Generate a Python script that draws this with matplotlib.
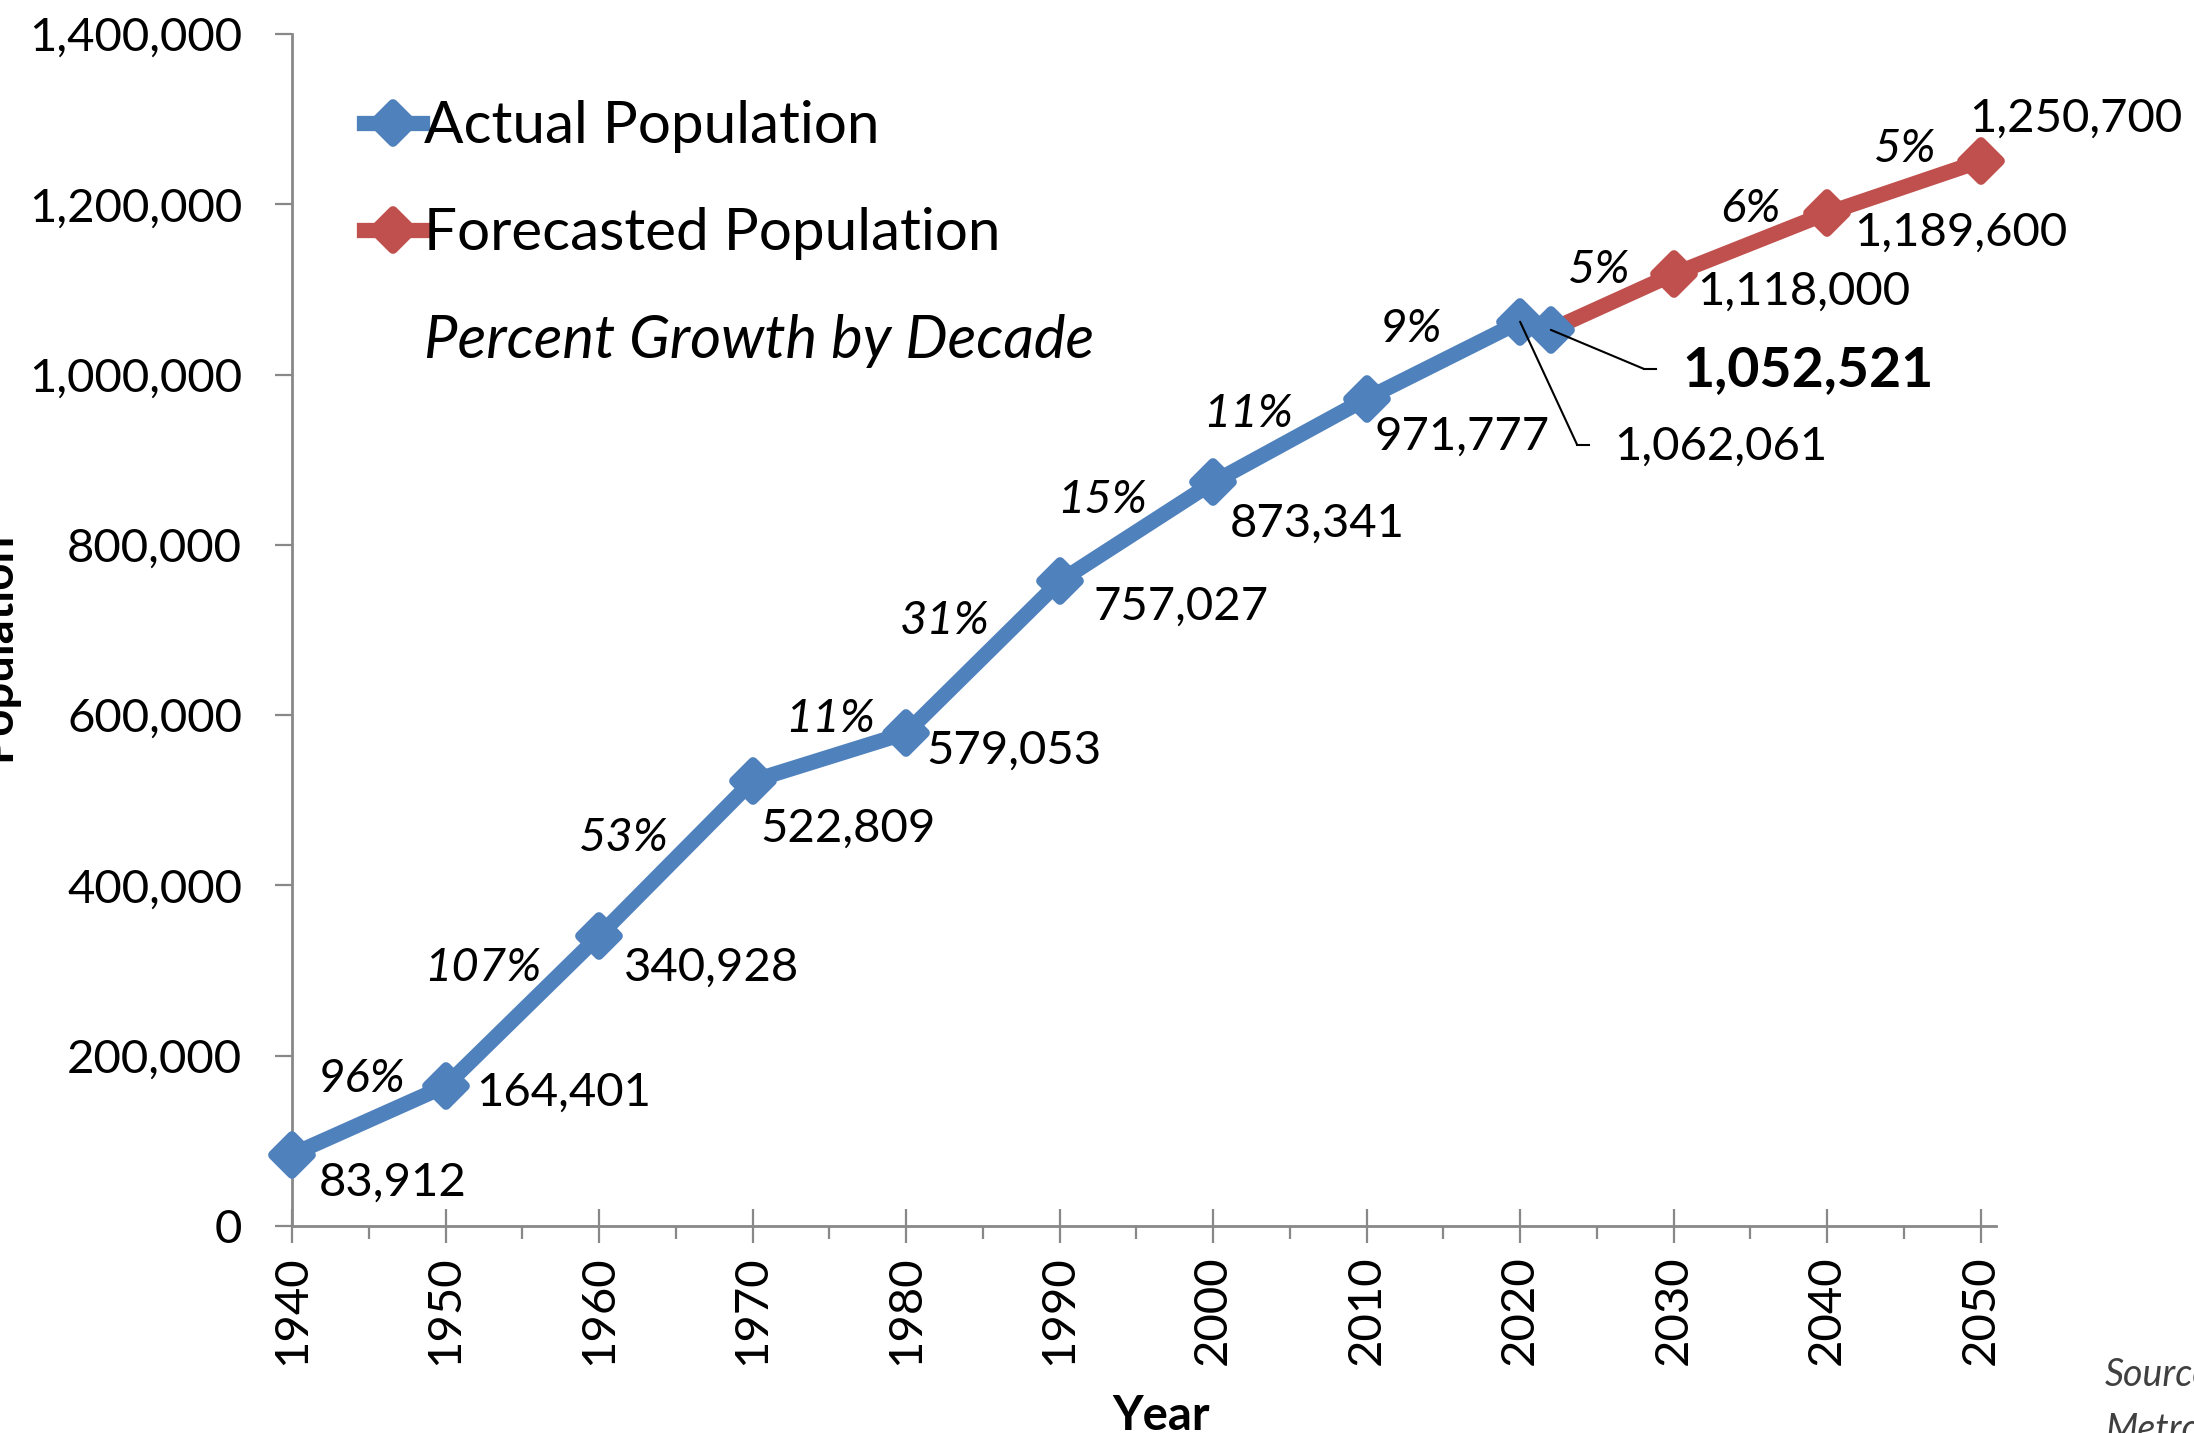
import matplotlib
matplotlib.use("Agg")
import matplotlib.pyplot as plt
from matplotlib.lines import Line2D
from matplotlib.markers import MarkerStyle
from matplotlib.ticker import MultipleLocator, FuncFormatter
from matplotlib.transforms import offset_copy

plt.rcParams['font.family'] = ['Lato', 'DejaVu Sans']

# data
years_actual = [1940, 1950, 1960, 1970, 1980, 1990, 2000, 2010, 2020, 2022]
pop_actual = [83912, 164401, 340928, 522809, 579053, 757027, 873341, 971777, 1062061, 1052521]
years_forecast = [2022, 2030, 2040, 2050]
pop_forecast = [1052521, 1118000, 1189600, 1250700]
growth_labels = ['96%', '107%', '53%', '11%', '31%', '15%', '11%', '9%', '5%', '6%', '5%']

blue = '#4F81BD'
red = '#C0504D'
grey = '#888888'

fig = plt.figure(figsize=(21.94, 14.33), dpi=100)
ax = fig.add_axes([292 / 2194, 1 - 1226 / 1433, (1996 - 292) / 2194, (1226 - 34) / 1433])

diamond = MarkerStyle('D', joinstyle='round')
ms, mew, lw = 19, 7, 11

# forecast first so the blue 2022 marker sits on top
ax.plot(years_forecast, pop_forecast, color=red, lw=lw, marker=diamond, markersize=ms,
        markeredgewidth=mew, markevery=[1, 2, 3], solid_capstyle='butt', clip_on=False, zorder=3)
ax.plot(years_actual, pop_actual, color=blue, lw=lw, marker=diamond, markersize=ms,
        markeredgewidth=mew, solid_joinstyle='round', clip_on=False, zorder=4)

ax.set_xlim(1940, 2051)
ax.set_ylim(0, 1400000)
ax.xaxis.set_major_locator(MultipleLocator(10))
ax.xaxis.set_minor_locator(MultipleLocator(5))
ax.yaxis.set_major_locator(MultipleLocator(200000))
ax.yaxis.set_major_formatter(FuncFormatter(lambda v, p: f'{int(v):,}'))

for s in ['top', 'right']:
    ax.spines[s].set_visible(False)
for s in ['left', 'bottom']:
    ax.spines[s].set_color(grey)
    ax.spines[s].set_linewidth(2)

ax.tick_params(axis='y', direction='out', length=12, width=1.6, color=grey, pad=24, labelsize=34)
ax.tick_params(axis='x', which='major', direction='inout', length=24, width=1.6, color=grey,
               pad=9, labelsize=34, labelrotation=90)
ax.tick_params(axis='x', which='minor', direction='out', length=9, width=1.6, color=grey)

# value labels: offsets in pixels (x right, y down)
all_years = years_actual[:-2] + years_forecast[1:]
all_pops = pop_actual[:-2] + pop_forecast[1:]
label_offsets = [(27, 28), (31, 7), (25, 32), (8, 48), (20, 18), (34, 25), (17, 41), (8, 38),
                 (24, 18), (27, 20), (-11, -42)]
for yr, pop, (dx, dy) in zip(all_years, all_pops, label_offsets):
    ax.annotate(f'{pop:,}', (yr, pop), xytext=(dx, -dy), textcoords='offset pixels',
                ha='left', va='center', fontsize=34, zorder=6)

# 2020 and 2022 labels with leader lines
leaders = [(years_actual[8], pop_actual[8], (57, 123), (69, 123), (94, 125), 'normal', 34),
           (years_actual[9], pop_actual[9], (93, 39), (105, 39), (132, 40), 'bold', 40)]
for yr, pop, elbow, end, txt, weight, size in leaders:
    # slanted part
    ax.annotate('', (yr, pop), xytext=(elbow[0], -elbow[1]), textcoords='offset pixels',
                arrowprops=dict(arrowstyle='-', color='black', lw=1.5, shrinkA=0, shrinkB=0),
                zorder=6)
    # short horizontal part
    t1 = offset_copy(ax.transData, fig=fig, x=elbow[0], y=-elbow[1], units='dots')
    t2 = offset_copy(ax.transData, fig=fig, x=end[0], y=-end[1], units='dots')
    p1 = t1.transform((yr, pop))
    p2 = t2.transform((yr, pop))
    fig.add_artist(Line2D([p1[0] / fig.bbox.width, p2[0] / fig.bbox.width],
                          [p1[1] / fig.bbox.height, p2[1] / fig.bbox.height],
                          color='black', lw=1.5))
    ax.annotate(f'{pop:,}', (yr, pop), xytext=(txt[0], -txt[1]), textcoords='offset pixels',
                ha='left', va='center', fontsize=size, fontweight=weight, zorder=6)

# percent growth labels at segment midpoints
seg_years = years_actual[:-1] + years_forecast
seg_pops = pop_actual[:-1] + pop_forecast
pairs = [(i, i + 1) for i in range(8)] + [(9, 10), (10, 11), (11, 12)]
pct_offsets = [(-7, -41), (-39, -43), (-52, -20), (1, -38), (-38, -36), (-34, -32), (-42, -27),
               (-32, -31), (-13, -32), (0, -35), (1, -38)]
for (a, b), lab, (dx, dy) in zip(pairs, growth_labels, pct_offsets):
    mx = (seg_years[a] + seg_years[b]) / 2
    my = (seg_pops[a] + seg_pops[b]) / 2
    ax.annotate(lab, (mx, my), xytext=(dx, -dy), textcoords='offset pixels',
                ha='center', va='center', fontsize=34, style='italic', zorder=6)

# legend
handles = [Line2D([], [], color=blue, lw=lw, marker=diamond, markersize=ms, markeredgewidth=mew),
           Line2D([], [], color=red, lw=lw, marker=diamond, markersize=ms, markeredgewidth=mew),
           Line2D([], [], color='none')]
leg = ax.legend(handles, ['Actual Population', 'Forecasted Population', 'Percent Growth by Decade'],
                loc='upper left', bbox_to_anchor=(364 / 2194, 1 - 100 / 1433),
                bbox_transform=fig.transFigure, frameon=False, fontsize=42,
                handlelength=1.0, handletextpad=0.02, labelspacing=0.93, borderaxespad=0,
                borderpad=0)
leg.get_texts()[2].set_style('italic')
leg.get_texts()[2].set_fontsize(43)

# axis titles (partly cut off in the original)
fig.text(18 / 2194, 1 - 646 / 1433, 'Population', rotation=90, ha='right', va='center',
         fontsize=34, fontweight='bold')
fig.text(1161 / 2194, 3 / 1433, 'Year', ha='center', va='baseline', fontsize=34, fontweight='bold')

# source note, cut off at the right edge
fig.text(2105 / 2194, 1 - 1375 / 1433, 'Source:', ha='left', va='center', fontsize=27,
         style='italic', color='#404040')
fig.text(2105 / 2194, 1 - 1430 / 1433, 'Metro', ha='left', va='center', fontsize=27,
         style='italic', color='#404040')

fig.savefig('out.png', dpi=100)
